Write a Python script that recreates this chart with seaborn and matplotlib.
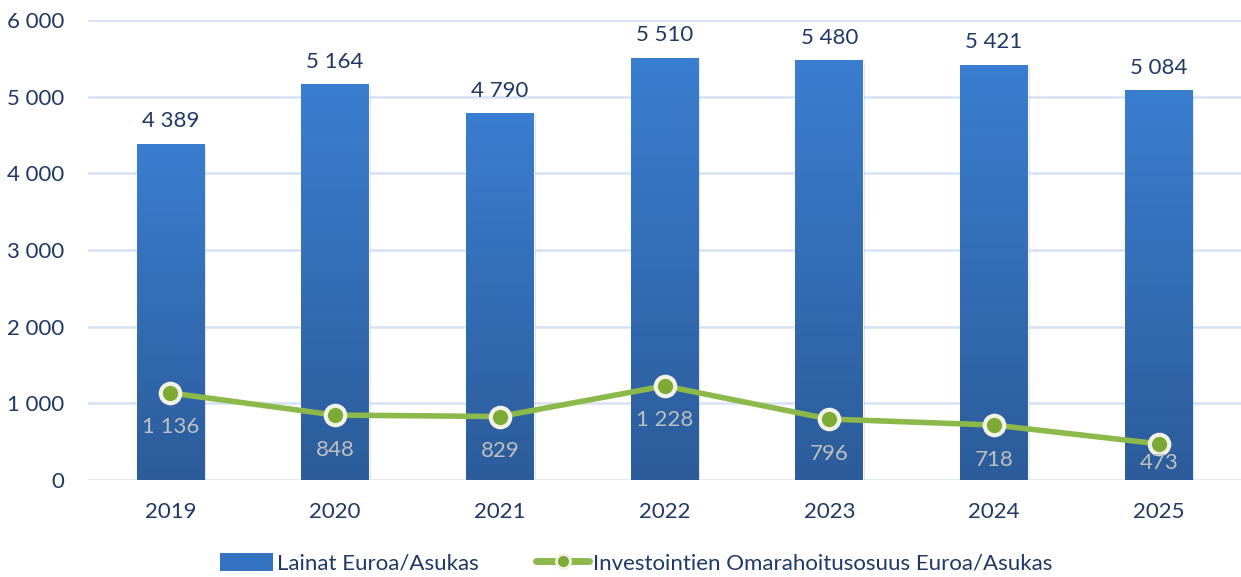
import numpy as np
import pandas as pd
import matplotlib
matplotlib.use("Agg")
import matplotlib.pyplot as plt
import seaborn as sns
from matplotlib.colors import LinearSegmentedColormap
from matplotlib.lines import Line2D
from matplotlib.patches import Patch

years = ["2019", "2020", "2021", "2022", "2023", "2024", "2025"]
lainat = [4389, 5164, 4790, 5510, 5480, 5421, 5084]
omarahoitus = [1136, 848, 829, 1228, 796, 718, 473]
yticks = [0, 1000, 2000, 3000, 4000, 5000, 6000]

bar_label = "Lainat Euroa/Asukas"
line_label = "Investointien Omarahoitusosuus Euroa/Asukas"

def fmt(v):
    return f"{v:,}".replace(",", " ")

sns.set_theme(style="white")
plt.rcParams['font.family'] = ['Lato', 'DejaVu Sans']
text_col = "#203864"
fs = 16

df = pd.DataFrame({"year": years, "lainat": lainat, "omarahoitus": omarahoitus})

fig = plt.figure(figsize=(12.41, 5.77), dpi=100)
ax = fig.add_axes([0.071, 0.168, 0.929, 0.797])

sns.barplot(data=df, x="year", y="lainat", ax=ax, color="#3572BE", width=0.41,
            zorder=3, saturation=1)

# gradient fill on bars
cmap = LinearSegmentedColormap.from_list("g", ["#2C5C9A", "#3A7ED0"])
grad = np.linspace(0, 1, 256).reshape(-1, 1)
for p in ax.patches:
    x0, y0 = p.get_x(), p.get_y()
    w, h = p.get_width(), p.get_height()
    # shadow
    ax.add_patch(plt.Rectangle((x0 + 0.012, y0 - 40), w, h, color="#000000",
                               alpha=0.12, zorder=2, lw=0))
    im = ax.imshow(grad, extent=[x0, x0 + w, y0, y0 + h], origin="lower",
                   cmap=cmap, aspect="auto", zorder=3.5)
    im.set_clip_path(p)
    p.set_facecolor("none")

# bar labels
for i, v in enumerate(lainat):
    ax.text(i, v + 160, fmt(v), ha="center", va="bottom", fontsize=fs,
            color=text_col, zorder=6)

# line
sns.lineplot(x=np.arange(len(years)), y=omarahoitus, ax=ax, color="#8DB84A",
             lw=4, zorder=5, marker="o", markersize=14,
             markerfacecolor="#7DAA35", markeredgecolor="#F2F2E6",
             markeredgewidth=3, sort=False)
for i, v in enumerate(omarahoitus):
    ax.text(i, max(v - 450, 225), fmt(v), ha="center", va="center", fontsize=16,
            color="#BFBFBF", zorder=6)

ax.set_ylim(0, 6000)
ax.set_xlim(-0.5, len(years) - 0.5)
ax.set_yticks(yticks)
ax.set_yticklabels([fmt(v) for v in yticks], fontsize=fs, color=text_col)
ax.tick_params(axis="x", labelsize=fs, labelcolor=text_col, length=0, pad=16)
ax.tick_params(axis="y", length=0, pad=17)
ax.set_xlabel("")
ax.set_ylabel("")
for s in ax.spines.values():
    s.set_visible(False)
ax.yaxis.grid(True, color="#D6E2F3", lw=1.8, zorder=0)
ax.set_axisbelow(True)

handles = [Patch(facecolor="#3473C2", edgecolor="none"),
           Line2D([0], [0], color="#8DB84A", lw=5, marker="o", markersize=10,
                  markerfacecolor="#7DAA35", markeredgecolor="#F2F2E6",
                  markeredgewidth=2)]
fig.legend(handles, [bar_label, line_label], loc="center",
           bbox_to_anchor=(0.5125, 0.024), ncol=2, frameon=False,
           fontsize=fs, labelcolor=text_col, handlelength=2.4,
           handleheight=0.85, handletextpad=0.15, columnspacing=2.6)

fig.savefig("out.png", dpi=100)
